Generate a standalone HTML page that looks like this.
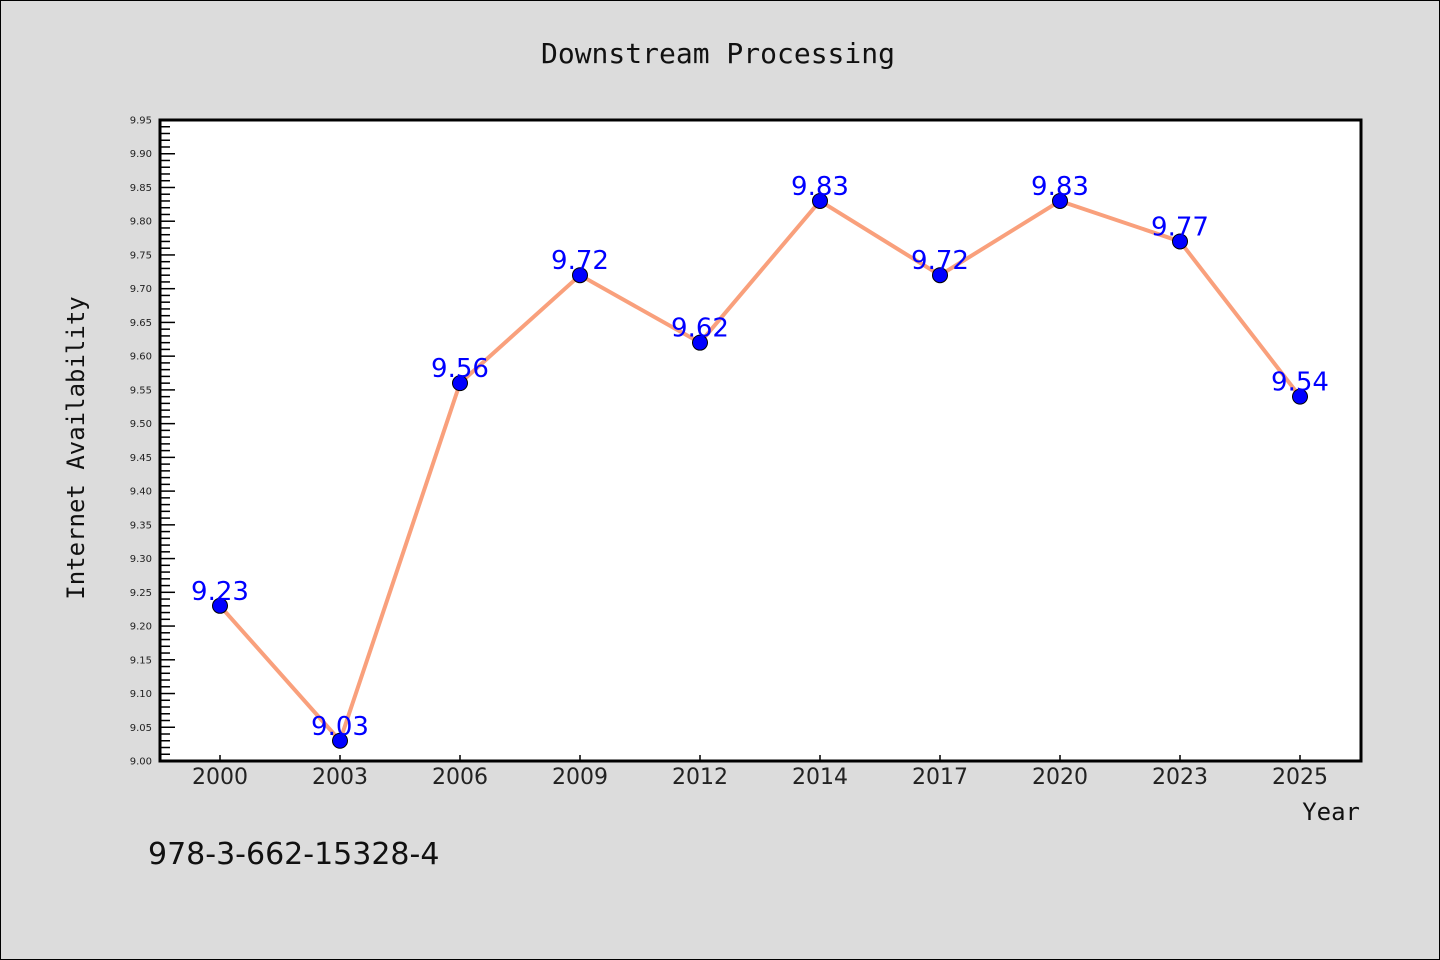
<!DOCTYPE html>
<html><head><meta charset="utf-8"><style>
body{margin:0;background:#dcdcdc;}
svg{display:block;font-family:"DejaVu Sans","Liberation Sans",sans-serif;}
</style></head><body>
<svg id="c" width="1440" height="960">
<rect x="0.5" y="0.5" width="1439" height="959" fill="#dcdcdc" stroke="#000"/>
<text x="718" y="63" text-anchor="middle" font-size="28" font-family="DejaVu Sans Mono,monospace" fill="#111">Downstream Processing</text>
<rect x="160" y="120" width="1201" height="641" fill="#fff"/>
<g id="ticks"></g>
<g id="marks"></g>
<rect x="160" y="120" width="1201" height="641" fill="none" stroke="#000" stroke-width="3"/>
<text transform="translate(84,448) rotate(-90)" text-anchor="middle" font-size="24" font-family="DejaVu Sans Mono,monospace" fill="#111">Internet Availability</text>
<text x="1360" y="820" text-anchor="end" font-size="24" font-family="DejaVu Sans Mono,monospace" fill="#111">Year</text>
<text x="148" y="864" font-size="30" fill="#111">978-3-662-15328-4</text>
</svg>
<script>
const categories=["2000","2003","2006","2009","2012","2014","2017","2020","2023","2025"];
const values=[9.23,9.03,9.56,9.72,9.62,9.83,9.72,9.83,9.77,9.54];
const yTicks=[9.00,9.05,9.10,9.15,9.20,9.25,9.30,9.35,9.40,9.45,9.50,9.55,9.60,9.65,9.70,9.75,9.80,9.85,9.90,9.95];
const NS="http://www.w3.org/2000/svg";
const y0=761,y1=120,vmin=9.0,vmax=9.95;
const ys=v=>y0-(v-vmin)/(vmax-vmin)*(y0-y1);
const xs=i=>220+i*120;
function mk(t,a,p){const e=document.createElementNS(NS,t);for(const k in a)e.setAttribute(k,a[k]);p.appendChild(e);return e;}
const tg=document.getElementById('ticks'),mg=document.getElementById('marks');
for(let k=0;k<=95;k++){
  const v=vmin+k*0.01;const y=ys(v);const major=k%5===0;
  const l=mk('line',{x1:160,x2:major?175:170,y1:y,y2:y,stroke:'#000','stroke-width':1.5},tg);
  
  
}
yTicks.forEach(v=>{
  const t=mk('text',{x:152,y:ys(v)+3.5,'text-anchor':'end','font-size':10,fill:'#222'},tg);
  t.textContent=v.toFixed(2);
  
  
});
categories.forEach((c,i)=>{
  const l=mk('line',{x1:xs(i),x2:xs(i),y1:761,y2:755,stroke:'#000','stroke-width':1.5},tg);
  
  
  const t=mk('text',{x:xs(i),y:784,'text-anchor':'middle','font-size':22,fill:'#222'},tg);
  t.textContent=c;
  
  
});
const pl=mk('polyline',{points:values.map((v,i)=>xs(i)+','+ys(v)).join(' '),fill:'none',stroke:'#f9a07c','stroke-width':4,'stroke-linejoin':'round'},mg);


values.forEach((v,i)=>{
  const c=mk('circle',{cx:xs(i),cy:ys(v),r:7.5,fill:'#0000ff',stroke:'#000','stroke-width':1},mg);
  
  
});
values.forEach((v,i)=>{
  const t=mk('text',{x:xs(i),y:ys(v)-6,'text-anchor':'middle','font-size':26,fill:'#0000ff'},mg);
  t.textContent=v.toFixed(2);
  
  
});
</script>
</body></html>
